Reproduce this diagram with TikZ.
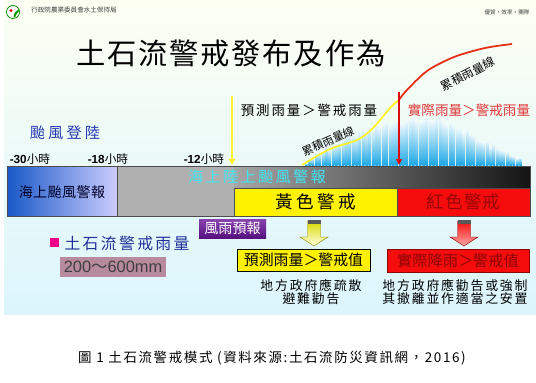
\documentclass[tikz,border=0pt]{standalone}
\usepackage{fontspec}
\setmainfont{Noto Sans CJK TC}
\newfontfamily\lsans{Liberation Sans}
\usetikzlibrary{arrows.meta,positioning,calc}
\definecolor{slidetop}{rgb}{0.99,1.00,0.95}
\definecolor{slidebot}{rgb}{0.86,0.96,0.99}
\definecolor{landblue}{rgb}{0.15,0.22,0.70}
\definecolor{seablue}{rgb}{0.10,0.35,0.78}
\definecolor{seapale}{rgb}{0.80,0.80,1.00}
\definecolor{barcyan}{rgb}{0.12,0.66,0.90}
\definecolor{bandcyan}{rgb}{0.25,0.90,0.95}
\definecolor{mauve}{rgb}{0.72,0.54,0.62}
\definecolor{deepred}{rgb}{0.55,0.02,0.02}
\definecolor{alertred}{rgb}{0.96,0.05,0.05}
\definecolor{softred}{rgb}{0.88,0.22,0.22}
\definecolor{windpurple}{rgb}{0.42,0.08,0.62}
\definecolor{edgegray}{gray}{0.30}
\definecolor{raincurve}{rgb}{0.90,0.18,0.08}
\definecolor{fcstyellow}{rgb}{1.00,0.95,0.15}
\newcommand\fsize[1]{\fontsize{#1}{#1}\selectfont}
\newcommand\fsp[2]{\fontsize{#1}{#1}\selectfont\addfontfeatures{LetterSpace=#2}}
\tikzset{
  hdr/.style={inner sep=0pt,text=black!75,font=\fsize{5.6}},
  hourlab/.style={inner sep=0pt,font=\fsize{10}},
  fcstline/.style={fcstyellow,line width=1.5pt},
  obsline/.style={raincurve,line width=1.5pt},
  fcstarrow/.style={fcstyellow,line width=1.1pt,-{Triangle[length=5pt,width=5pt]}},
  obsarrow/.style={alertred!90!black,line width=1.1pt,-{Triangle[length=5pt,width=5pt]}},
  warnbox/.style={draw=edgegray,inner sep=0pt,minimum height=0.84cm},
  actbox/.style={inner sep=0pt,minimum height=0.66cm},
  actnote/.style={inner sep=0pt,align=center,
    font={\fontsize{11}{10.7}\selectfont\addfontfeatures{LetterSpace=14}}},
}
\begin{document}
\begin{tikzpicture}[x=0.03cm,y=-0.03cm]
\useasboundingbox (0,0) rectangle (536,382);
% slide background
\shade[top color=slidetop,bottom color=slidebot] (4,0) rectangle (536,314);
% agency logo and header
\filldraw[fill=white,draw=green!55!black,line width=0.6pt] (13,12) circle (6.5);
\fill[red!85!black] (11,10.5) circle (1.7);
\fill[green!60!black] (13.5,17) .. controls (14,12) and (17,10) .. (19.5,9) -- (19,11) .. controls (17,13) and (16,15) .. (15,17.5) -- cycle;
\node[hdr] (agency) at (74,10) {行政院農業委員會水土保持局};
\node[hdr,font=\fsize{4.8}] (motto) at (507,12) {優質・效率・團隊};
% title
\node[font=\fsp{25}{6}] (title) at (231,53) {土石流警戒發布及作為};
% rainfall histogram
\pgfmathsetseed{12}
\foreach \i in {0,...,64}{
  \pgfmathsetmacro\bx{305+3.35*\i}
  \pgfmathsetmacro\bh{(\bx<425) ? 44*(1-((425-\bx)/125)^2) : 44*exp(-((\bx-425)/72)^2)}
  \pgfmathsetmacro\bh{max(2,\bh+2.5*rand)}
  \shade[top color=white!90!barcyan,bottom color=barcyan] (\bx,165) rectangle ++(2.5,-\bh);
}
% accumulated rainfall curve
\coordinate (cross) at (399,100);
\draw[fcstline] plot[smooth,tension=0.6] coordinates {(302,165) (330,149) (357,140) (373,128) (390,108) (cross)};
\draw[obsline] plot[smooth] coordinates {(cross) (406,91) (427,71) (454,57) (485,48) (512,44)};
\node[font=\fsize{9.5},rotate=24] (cumlow) at (328,141) {累積雨量線};
\node[font=\fsize{10},rotate=27] (cumhigh) at (468,74) {累積雨量線};
% threshold texts
\node[font=\fsp{11.5}{14}] (fcsttxt) at (309,110) {預測雨量＞警戒雨量};
\node[font=\fsize{11.6},text=softred] (obstxt) at (469,110) {實際雨量＞警戒雨量};
% forecast and observed arrows
\coordinate (fcsttop) at (232,96);
\coordinate (fcsttip) at (232,165);
\draw[fcstarrow] (fcsttop) -- (fcsttip);
\coordinate (obstop) at (399,92);
\coordinate (obstip) at (399,165);
\draw[obsarrow] (obstop) -- (obstip);
% landfall and hours
\node[font=\fsp{13}{20},text=landblue] (landfall) at (65,133) {颱風登陸};
\node[hourlab] (h30) at (30,159) {{\lsans\bfseries -30}小時};
\node[hourlab] (h18) at (108,159) {{\lsans\bfseries -18}小時};
\node[hourlab] (h12) at (204,159) {{\lsans\bfseries -12}小時};
% warning bars
\shade[left color=seablue,right color=seapale,draw=edgegray] (7,166) rectangle (117,216);
\fill[gray!62] (117,166) rectangle (234,216);
\shade[left color=gray!70,right color=black!92] (234,166) rectangle (530,188);
\draw[edgegray] (117,166) rectangle (530,216);
\node[inner sep=0pt,font=\fsp{12}{3},text=black!85!blue] (seawarn) at (62,192) {海上颱風警報};
\node[inner sep=0pt,font=\fsp{13}{15},text=bandcyan] (bandtxt) at (257,177) {海上陸上颱風警報};
\node[warnbox,fill=yellow,minimum width=4.89cm,font=\fsp{15}{20}] (yellowwarn) at (315.5,202) {黃色警戒};
\node[warnbox,fill=alertred,minimum width=3.99cm,font=\fsp{15}{6},text=deepred!90!red] (redwarn) at (463.5,202) {紅色警戒};
% wind and rain forecast
\node[top color=windpurple!80!white,bottom color=windpurple!80!black,text=white,minimum width=2.01cm,minimum height=0.57cm,inner sep=0pt,font=\fsize{12}] (windfcst) at (232.5,228.5) {風雨預報};
% block arrows
\foreach \cx/\ctop/\cbot/\cedge in {314/yellow!85!black/yellow!12!white/olive, 464/alertred/red!35!white/deepred}{
  \shade[top color=\ctop,bottom color=\cbot,draw=\cedge] (\cx-6.5,221) -- (\cx+6.5,221) -- (\cx+6.5,237) -- (\cx+14,237) -- (\cx,246) -- (\cx-14,237) -- (\cx-6.5,237) -- cycle;
  \fill[black!65] (\cx-6.5,220) rectangle (\cx+6.5,223.5);
}
% response boxes
\node[actbox,draw=black,fill=yellow,minimum width=3.99cm,font=\fsize{12.7}] (fcstbox) at (303.5,260) {預測雨量＞警戒值};
\node[actbox,draw=deepred,fill=alertred,minimum width=4.26cm,minimum height=0.69cm,text=deepred,font=\fsize{13}] (obsbox) at (458,260.5) {實際降雨＞警戒值};
\node[actnote] (fcstact) at (311,292) {地方政府應疏散\\避難勸告};
\node[actnote] (obsact) at (455,292) {地方政府應勸告或強制\\其撤離並作適當之安置};
% debris-flow rain threshold
\fill[magenta] (50,238) rectangle (59,247);
\node[inner sep=0pt,font=\fsp{13.5}{15},text=landblue!85!black] (threshold) at (127,243) {土石流警戒雨量};
\node[fill=mauve,inner sep=0pt,minimum width=3.18cm,minimum height=0.6cm,text=black!75,font=\fsize{14}] (range) at (113,267) {{\lsans 200}～{\lsans 600mm}};
% caption
\node[inner sep=0pt,font=\fsp{11.5}{12}] (caption) at (272,358) {圖 1 土石流警戒模式 (資料來源:土石流防災資訊網，2016)};
\end{tikzpicture}
\end{document}
